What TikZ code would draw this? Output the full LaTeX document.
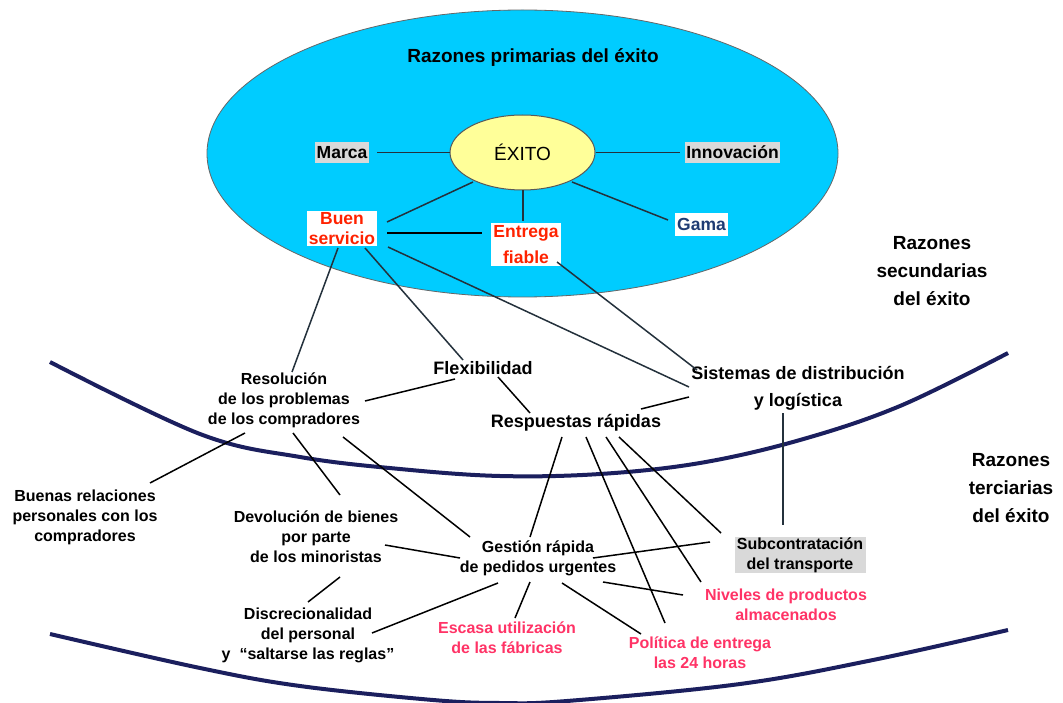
\documentclass[tikz,border=0pt]{standalone}
\usepackage{fontspec}
\setmainfont{Liberation Sans}
\usetikzlibrary{shapes.geometric,calc}
\definecolor{cyanbg}{HTML}{00CCFF}
\definecolor{exitoy}{HTML}{FFFF99}
\definecolor{boxgray}{HTML}{D9D9D9}
\definecolor{redtxt}{HTML}{FF2200}
\definecolor{pinktxt}{HTML}{FF3366}
\definecolor{gamablue}{HTML}{1F3C74}
\definecolor{arcnavy}{HTML}{1B1F5E}
\definecolor{linedark}{HTML}{24313C}
\begin{document}
\begin{tikzpicture}[x=1pt,y=-1pt,
  lbl/.style={align=center,inner sep=0pt,font=\bfseries\fontsize{16}{20}\selectfont},
  lblbig/.style={align=center,inner sep=0pt,font=\bfseries\fontsize{18}{27}\selectfont},
  titlelbl/.style={align=center,inner sep=0pt,font=\bfseries\fontsize{19}{28}\selectfont},
  primlbl/.style={align=center,font=\bfseries\fontsize{17.5}{20}\selectfont},
  graybox/.style={fill=boxgray,inner xsep=1.5pt,inner ysep=0pt,minimum height=21pt},
  whitebox/.style={fill=white,inner xsep=2pt,inner ysep=1.5pt},
  pinklbl/.style={text=pinktxt},
  conn/.style={draw=black,line width=1.5pt},
  connup/.style={draw=linedark,line width=1.5pt},
  arcline/.style={draw=arcnavy,line width=4pt}
]
\useasboundingbox (0,0) rectangle (1063,703);
\fill[white] (0,0) rectangle (1063,703);

% primary zone
\node[ellipse,draw=black!60,line width=0.8pt,fill=cyanbg,minimum width=631pt,minimum height=287pt,inner sep=0pt] (primzone) at (522.5,153.5) {};
\node[titlelbl] (rprim) at (533,58) {Razones primarias del éxito};
\node[ellipse,draw=black!65,line width=1pt,fill=exitoy,minimum width=145pt,minimum height=75pt,inner sep=0pt,font=\fontsize{19}{22}\selectfont] (exito) at (522.5,152.5) {ÉXITO};
\node[primlbl,graybox] (marca) at (342,152.5) {Marca};
\node[primlbl,graybox] (innov) at (732.5,152.5) {Innovación};
\node[primlbl,fill=white,inner xsep=2pt,inner ysep=0pt,minimum height=23pt,text=gamablue] (gama) at (701.5,224.5) {Gama};
\node[primlbl,whitebox,text=redtxt] (bs) at (342,228.5) {Buen\\servicio};
\node[primlbl,whitebox,text=redtxt,inner ysep=2.3pt,font=\bfseries\fontsize{17.5}{26}\selectfont] (ef) at (526,244.5) {Entrega\\fiable};

% side titles
\node[titlelbl] (rsec) at (932,271.5) {Razones\\secundarias\\del éxito};
\node[titlelbl] (rter) at (1011,488.5) {Razones\\terciarias\\del éxito};

% boundary arcs
\begin{scope}
\clip (0,0) rectangle (1063,703);
\draw[arcline] plot[smooth,tension=0.6] coordinates {(50,362) (200,434) (300,457) (400,469) (500,476) (600,474) (700,463) (800,440) (900,406) (1008,353)};
\draw[arcline] plot[smooth,tension=0.6] coordinates {(50,634) (200,668) (300,686) (433,700) (500,703) (567,701) (740,684) (873,660) (1008,630)};
\end{scope}

% secondary
\node[lbl] (res) at (284,400) {Resolución\\de los problemas\\de los compradores};
\node[lblbig] (flex) at (483,368) {Flexibilidad};
\node[lblbig] (resp) at (576,423) {Respuestas rápidas};
\node[lblbig] (sist) at (798,388) {Sistemas de distribución\\y logística};

% tertiary
\node[lbl] (buenas) at (85,517) {Buenas relaciones\\personales con los\\compradores};
\node[lbl] (devol) at (316,537) {Devolución de bienes\\por parte\\de los minoristas};
\node[lbl] (gest) at (538,558) {Gestión rápida\\de pedidos urgentes};
\node[lbl,fill=boxgray,minimum width=131pt,minimum height=36pt] (subc) at (800,555) {Subcontratación\\del transporte};
\node[lbl,pinklbl] (nivel) at (786,605) {Niveles de productos\\almacenados};
\node[lbl] (discr) at (308,635) {Discrecionalidad\\del personal\\y~~“saltarse las reglas”};
\node[lbl,pinklbl] (escasa) at (507,638) {Escasa utilización\\de las fábricas};
\node[lbl,pinklbl] (polit) at (700,653) {Política de entrega\\las 24 horas};

% connectors in primary zone
\draw[connup] ([shift={(35,0)}]marca.center) -- (exito.west);
\draw[connup] (exito.east) -- ([shift={(-52.5,0)}]innov.center);
\draw[connup] ([shift={(49.5,29.5)}]exito.center) -- ([shift={(-33.5,-4.5)}]gama.center);
\draw[connup] ([shift={(-49.5,29.5)}]exito.center) -- ([shift={(45,-6.5)}]bs.center);
\draw[connup] ([shift={(0.5,0)}]exito.south) -- ([shift={(-3,-23.5)}]ef.center);
\draw[conn] ([shift={(45,4.5)}]bs.center) -- ([shift={(-44,-11.5)}]ef.center);

% primary to secondary
\draw[connup] ([shift={(-4,19.5)}]bs.center) -- ([shift={(8,-28)}]res.center);
\draw[connup] ([shift={(23,19.5)}]bs.center) -- ([shift={(-20,-8)}]flex.center);
\draw[connup] ([shift={(46,18.5)}]bs.center) -- ([shift={(-109,-1)}]sist.center);
\draw[connup] ([shift={(31,17.5)}]ef.center) -- ([shift={(-101,-18)}]sist.center);

% secondary links
\draw[conn] ([shift={(-28,11)}]flex.center) -- ([shift={(81,1)}]res.center);
\draw[conn] ([shift={(15,9)}]flex.center) -- ([shift={(-46,-10)}]resp.center);
\draw[conn] ([shift={(-109,9)}]sist.center) -- ([shift={(65,-14)}]resp.center);
\draw[connup] ([shift={(-15,25)}]sist.center) -- ([shift={(-17,-30)}]subc.center);

% secondary to tertiary
\draw[conn] ([shift={(-39,33)}]res.center) -- ([shift={(65,-34)}]buenas.center);
\draw[conn] ([shift={(9,33)}]res.center) -- ([shift={(24,-42)}]devol.center);
\draw[conn] ([shift={(59,37)}]res.center) -- ([shift={(-68,-21)}]gest.center);
\draw[conn] ([shift={(-14,14)}]resp.center) -- ([shift={(-8,-21)}]gest.center);
\draw[conn] ([shift={(10,14)}]resp.center) -- ([shift={(-35,-30)}]polit.center);
\draw[conn] ([shift={(30,14)}]resp.center) -- ([shift={(-85,-23)}]nivel.center);
\draw[conn] ([shift={(43,14)}]resp.center) -- ([shift={(-79,-22)}]subc.center);

% tertiary links
\draw[conn] ([shift={(69,8)}]devol.center) -- ([shift={(-78,0)}]gest.center);
\draw[conn] ([shift={(24,40)}]devol.center) -- ([shift={(0,-33)}]discr.center);
\draw[conn] ([shift={(-40,25)}]gest.center) -- ([shift={(64,-2)}]discr.center);
\draw[conn] ([shift={(-8,24)}]gest.center) -- ([shift={(8,-20)}]escasa.center);
\draw[conn] ([shift={(24,25)}]gest.center) -- ([shift={(-59,-19)}]polit.center);
\draw[conn] ([shift={(65,24)}]gest.center) -- ([shift={(-103,-10)}]nivel.center);
\draw[conn] ([shift={(-90,-13)}]subc.center) -- ([shift={(55,0)}]gest.center);
\end{tikzpicture}
\end{document}
